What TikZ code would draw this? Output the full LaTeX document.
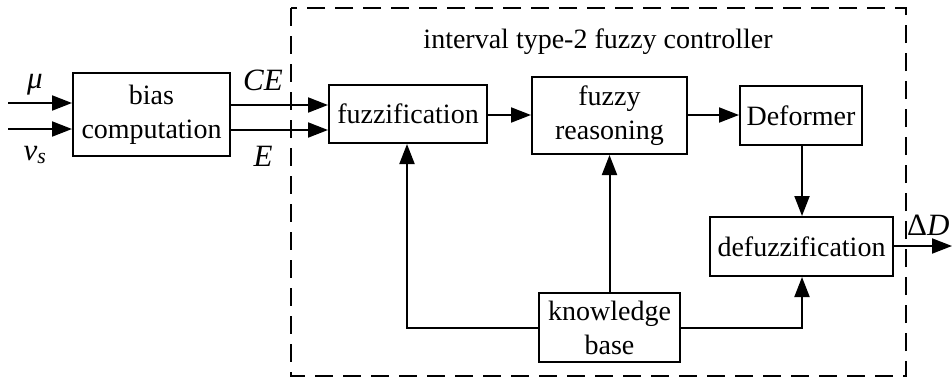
\documentclass[tikz,border=0pt]{standalone}
\usepackage{fontspec}
\setmainfont{Liberation Serif}
\usetikzlibrary{arrows.meta}
\begin{document}
\begin{tikzpicture}[x=1pt,y=-1pt,
  every node/.style={font=\fontsize{28}{34}\selectfont},
  blk/.style={draw,line width=2pt,inner sep=0pt,align=center,minimum width=#1},
  arr/.style={line width=2pt,-{Triangle[length=20pt,width=15pt]}},
  ln/.style={line width=2pt},
  lab/.style={inner sep=0pt,font=\fontsize{31}{34}\selectfont\itshape}]
\useasboundingbox (0,0) rectangle (952,378);
\fill[white] (0,0) rectangle (952,378);
% dashed frame
\draw[line width=2pt,dash pattern=on 18pt off 10pt] (291,8) rectangle (906,376);
\node (title) at (598,42) {interval type-2 fuzzy controller};
% blocks
\node[blk=157pt,minimum height=83pt] (bias) at (151.5,114.5) {bias\\computation};
\node[blk=158pt,minimum height=58pt] (fuzz) at (408,114) {fuzzification};
\node[blk=155pt,minimum height=77pt] (reas) at (609.5,115.5) {fuzzy\\reasoning};
\node[blk=122pt,minimum height=59pt] (def) at (801,115.5) {Deformer};
\node[blk=183pt,minimum height=59pt] (defuz) at (801.5,246.5) {defuzzification};
\node[blk=141pt,minimum height=69pt] (kb) at (609.5,327.5) {knowledge\\base};
% inputs
\coordinate (mu0) at (8,103);
\coordinate (vs0) at (8,129);
\draw[arr] (mu0) -- (mu0 -| bias.west);
\draw[arr] (vs0) -- (vs0 -| bias.west);
\node[lab] (mu) at (35,85) {μ};
\node[lab] (vs) at (35,155) {v\textsubscript{s}};
% bias to fuzzification
\coordinate (ce0) at (230,105);
\coordinate (e0) at (230,130);
\draw[arr] (ce0) -- (ce0 -| fuzz.west);
\draw[arr] (e0) -- (e0 -| fuzz.west);
\node[lab] (ce) at (263,80) {CE};
\node[lab] (e) at (263,156) {E};
% chain
\draw[arr] (fuzz.east |- 0,115) -- (reas.west |- 0,115);
\draw[arr] (reas.east |- 0,115) -- (def.west |- 0,115);
\draw[arr] (def.south -| 802,0) -- (defuz.north -| 802,0);
\draw[arr] (kb.north) -- (reas.south);
\coordinate (kl) at (407,328);
\coordinate (kr) at (802,328);
\draw[arr] (kb.west |- kl) -- (kl) -- (kl |- fuzz.south);
\draw[arr] (kb.east |- kr) -- (kr) -- (kr |- defuz.south);
% output
\coordinate (out) at (952,246);
\draw[arr] (defuz.east |- out) -- (out);
\node[inner sep=0pt,anchor=west,font=\fontsize{31}{34}\selectfont] (dd) at (907,225) {Δ\textit{D}};
\end{tikzpicture}
\end{document}
